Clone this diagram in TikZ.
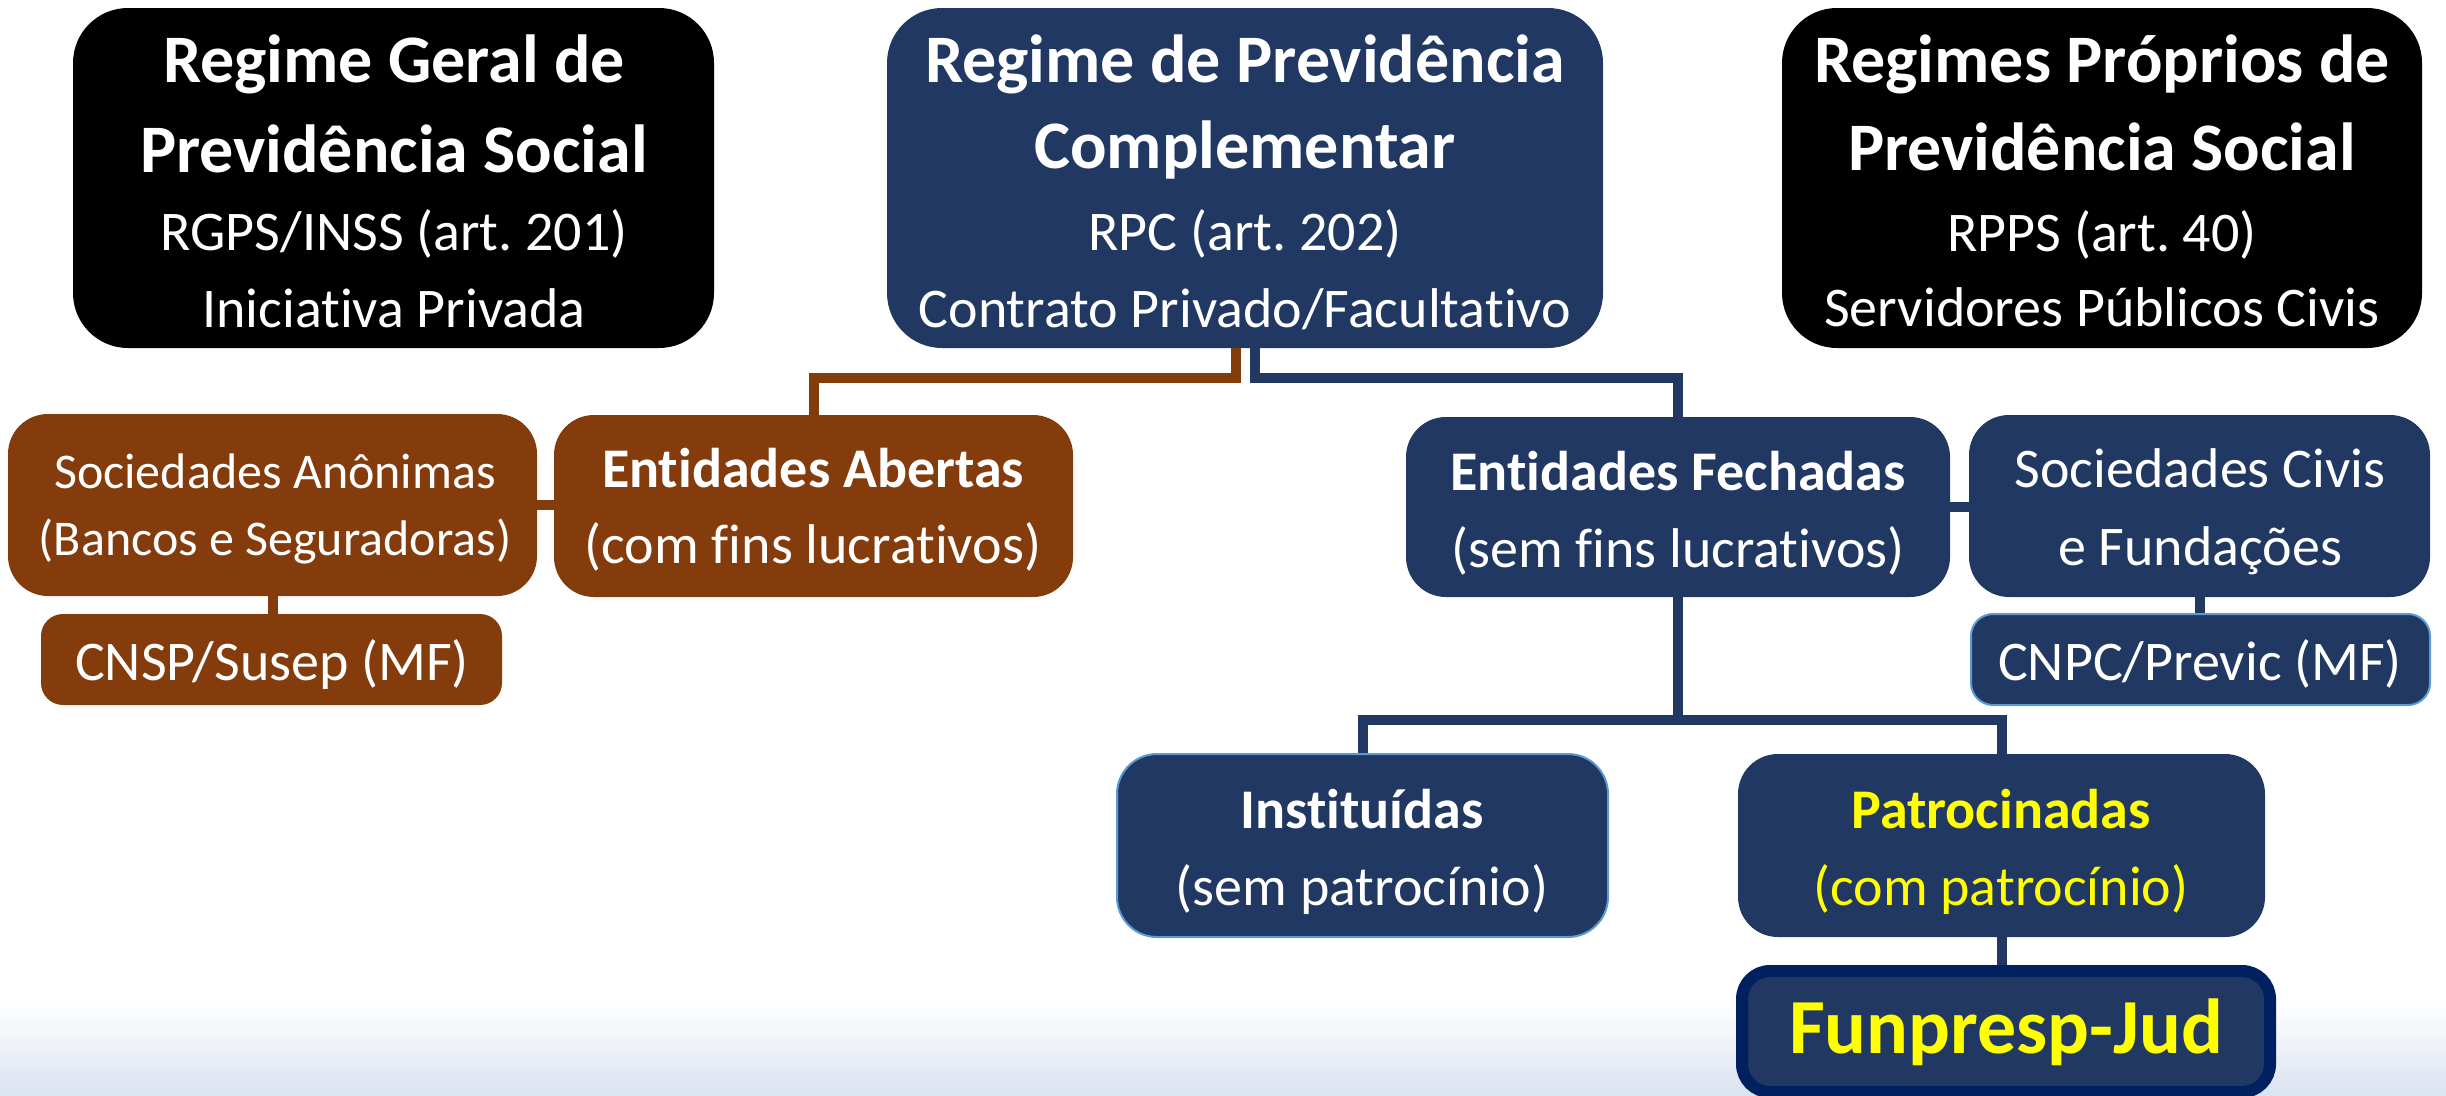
\documentclass[tikz,border=0pt]{standalone}
\usepackage{fontspec}
\setmainfont{Carlito}[Ligatures=NoCommon]
\frenchspacing
\definecolor{navy}{RGB}{33,56,99}
\definecolor{brownc}{RGB}{132,60,12}
\definecolor{darkborder}{RGB}{0,32,96}
\definecolor{lightedge}{RGB}{91,155,213}
\definecolor{yel}{RGB}{255,255,0}
\definecolor{bottomblue}{RGB}{218,227,240}
\newcommand\fTitle{\fontsize{68}{80}\selectfont\bfseries}
\newcommand\fSub{\fontsize{56}{66}\selectfont}
\newcommand\fSubB{\fontsize{56}{66}\selectfont\bfseries}
\newcommand\fSmall{\fontsize{50}{60}\selectfont}
\newcommand\fBig{\fontsize{78}{90}\selectfont\bfseries}
\tikzset{
  boxbase/.style={rectangle, inner sep=0pt, draw=none},
  topbox/.style={boxbase, rounded corners=55pt, minimum height=340pt},
  midbox/.style={boxbase, rounded corners=40pt},
  smallbox/.style={boxbase, rounded corners=22pt, minimum height=91pt},
  txt/.style={anchor=base, inner sep=0pt, text=white},
  conn/.style={line width=10pt, line join=miter},
}
\begin{document}
\begin{tikzpicture}[x=1pt,y=-1pt]
\useasboundingbox (0,0) rectangle (2446,1095);
\fill[top color=white, bottom color=bottomblue] (0,1000) rectangle (2446,1095);

% top boxes
\node[topbox, fill=black, minimum width=641pt] (A) at (393.5,178) {};
\node[topbox, fill=navy, minimum width=716pt] (B) at (1245,178) {};
\node[topbox, fill=black, minimum width=640pt] (C) at (2102,178) {};

% middle boxes
\node[midbox, fill=brownc, minimum width=529pt, minimum height=182pt] (SA) at (272.5,505) {};
\node[midbox, fill=brownc, minimum width=519pt, minimum height=182pt] (Ab) at (813.5,506) {};
\node[smallbox, fill=brownc, minimum width=461pt] (CN) at (271.5,659.5) {};
\node[midbox, fill=navy, minimum width=544pt, minimum height=180pt] (Fe) at (1678,507) {};
\node[midbox, fill=navy, minimum width=461pt, minimum height=182pt] (SC) at (2199.5,506) {};
\node[smallbox, fill=navy, draw=lightedge, line width=2pt, minimum width=459pt] (CP) at (2200.5,659.5) {};
\node[midbox, fill=navy, draw=lightedge, line width=2pt, minimum width=491pt, minimum height=183pt] (In) at (1362.5,845.5) {};
\node[midbox, fill=navy, minimum width=527pt, minimum height=183pt] (Pa) at (2001.5,845.5) {};
\node[boxbase, rounded corners=28pt, fill=navy, draw=darkborder, line width=12pt, minimum width=528pt, minimum height=121pt] (Fu) at (2006,1031.5) {};

% connectors
\coordinate (hb) at (0,378);
\coordinate (jf) at (0,720);
\draw[conn, brownc] ([xshift=-9pt]B.south) -- ([xshift=-9pt]B.south |- hb) -- (Ab.north |- hb) -- (Ab.north);
\draw[conn, navy] ([xshift=10pt]B.south) -- ([xshift=10pt]B.south |- hb) -- (Fe.north |- hb) -- (Fe.north);
\draw[conn, brownc] (SA.east) -- (Ab.west |- SA.east);
\draw[conn, brownc] (SA.south) -- (CN.north -| SA.south);
\draw[conn, navy] (Fe.east) -- (SC.west |- Fe.east);
\draw[conn, navy] (SC.south) -- (CP.north -| SC.south);
\draw[conn, navy] (Fe.south) -- (Fe.south |- jf);
\draw[conn, navy] (In.north) -- (In.north |- jf) -- (Pa.north |- jf) -- (Pa.north);
\draw[conn, navy] (Pa.south) -- (Fu.north -| Pa.south);

% texts
\node[txt] (A1) at (394,82) {\fTitle Regime Geral de};
\node[txt] (A2) at (394,172) {\fTitle Previdência Social};
\node[txt] (A3) at (394,250) {\fSub RGPS/INSS (art. 201)};
\node[txt] (A4) at (394,327) {\fSub Iniciativa Privada};

\node[txt] (B1) at (1245,82) {\fTitle Regime de Previdência};
\node[txt] (B2) at (1245,168) {\fTitle Complementar};
\node[txt] (B3) at (1245,250) {\fSub RPC (art. 202)};
\node[txt] (B4) at (1245,327) {\fSub Contrato Privado/Facultativo};

\node[txt] (C1) at (2102,82) {\fTitle Regimes Próprios de};
\node[txt] (C2) at (2102,170) {\fTitle Previdência Social};
\node[txt] (C3) at (2102,251) {\fSub RPPS (art. 40)};
\node[txt] (C4) at (2102,326) {\fSub Servidores Públicos Civis};

\node[txt] (SA1) at (275,488) {\fSmall Sociedades Anônimas};
\node[txt] (SA2) at (275,555) {\fSmall (Bancos e Seguradoras)};
\node[txt] (Ab1) at (813,487) {\fSubB Entidades Abertas};
\node[txt] (Ab2) at (813,563) {\fSub (com fins lucrativos)};
\node[txt] (CN1) at (272,680) {\fSub CNSP/Susep (MF)};

\node[txt] (Fe1) at (1678,490) {\fSubB Entidades Fechadas};
\node[txt] (Fe2) at (1678,567) {\fSub (sem fins lucrativos)};
\node[txt] (SC1) at (2200,487) {\fSub Sociedades Civis};
\node[txt] (SC2) at (2200,565) {\fSub e Fundações};
\node[txt] (CP1) at (2200,680) {\fSub CNPC/Previc (MF)};

\node[txt] (In1) at (1362,828) {\fSubB Instituídas};
\node[txt] (In2) at (1362,905) {\fSub (sem patrocínio)};
\node[txt, text=yel] (Pa1) at (2001,828) {\fSubB Patrocinadas};
\node[txt, text=yel] (Pa2) at (2001,905) {\fSub (com patrocínio)};
\node[txt, text=yel] (Fu1) at (2006,1053) {\fBig Funpresp-Jud};
\end{tikzpicture}
\end{document}
